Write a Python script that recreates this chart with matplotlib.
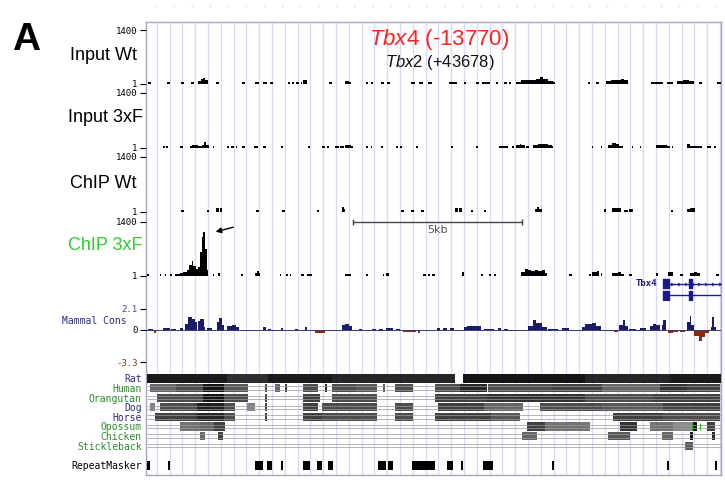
import numpy as np
import matplotlib.pyplot as plt

plt.rcParams['mathtext.fontset'] = 'custom'
plt.rcParams['mathtext.it'] = 'Liberation Sans:italic'
plt.rcParams['mathtext.rm'] = 'Liberation Sans'

W, H = 725, 484
KB = 17.01          # width of the window, kb

# ---- read-seq signal: (start kb, end kb, value on the 1..1400 scale)
input_wt = [(0.06, 0.15, 40), (0.62, 0.71, 40), (1.04, 1.13, 40), (1.33, 1.42, 40),
            (1.54, 1.62, 60), (1.62, 1.69, 120), (1.69, 1.76, 150), (1.76, 1.83, 80),
            (2.08, 2.16, 40), (2.85, 2.94, 50), (3.22, 3.33, 35), (3.45, 3.57, 35),
            (3.66, 3.76, 35), (4.2, 4.26, 35), (4.32, 4.38, 35), (4.44, 4.52, 35),
            (4.58, 4.62, 40), (4.65, 4.76, 90), (5.42, 5.5, 40), (5.9, 6.0, 70),
            (6.0, 6.06, 40), (6.52, 6.58, 35), (6.65, 6.72, 35), (6.96, 7.05, 35),
            (7.13, 7.22, 50), (7.84, 7.95, 35), (8.08, 8.2, 35), (8.35, 8.46, 35),
            (8.96, 9.2, 45), (9.41, 9.47, 35), (9.76, 9.85, 35), (9.94, 10.18, 35),
            (10.35, 10.42, 35), (10.6, 10.68, 35), (10.74, 10.8, 35), (10.95, 11.1, 50),
            (11.1, 11.3, 100), (11.3, 11.55, 80), (11.55, 11.65, 130), (11.65, 11.75, 180),
            (11.75, 11.9, 120), (11.9, 12.05, 70), (12.05, 12.1, 35), (13.07, 13.13, 35),
            (13.3, 13.4, 35), (13.6, 13.75, 70), (13.75, 13.9, 100), (13.9, 14.05, 80),
            (14.05, 14.15, 110), (14.15, 14.25, 90), (14.95, 15.1, 50), (15.1, 15.3, 40),
            (15.4, 15.6, 40), (15.7, 15.9, 70), (15.9, 16.05, 100), (16.05, 16.2, 60),
            (16.35, 16.45, 35), (16.9, 17.0, 35)]

input_3xf = [(0.5, 0.56, 35), (0.6, 0.64, 50), (1.0, 1.1, 35), (1.3, 1.35, 35),
             (1.35, 1.55, 55), (1.55, 1.65, 50), (1.65, 1.72, 70), (1.72, 1.78, 130),
             (1.78, 1.86, 60), (1.97, 2.02, 35), (2.4, 2.45, 35), (2.5, 2.6, 35),
             (2.65, 2.7, 35), (2.85, 2.92, 35), (3.2, 3.3, 35), (3.45, 3.55, 35),
             (4.0, 4.05, 35), (4.78, 4.85, 35), (5.2, 5.3, 35), (5.35, 5.4, 35),
             (5.6, 5.7, 35), (5.75, 5.85, 35), (5.9, 6.05, 55), (6.05, 6.12, 35),
             (6.52, 6.58, 35), (6.65, 6.7, 35), (6.95, 7.02, 35), (7.4, 7.46, 35),
             (7.52, 7.58, 35), (7.98, 8.05, 35), (9.03, 9.07, 35), (9.77, 9.82, 35),
             (10.45, 10.6, 35), (10.6, 10.7, 35), (10.83, 10.9, 40), (10.95, 11.05, 60),
             (11.05, 11.1, 90), (11.1, 11.2, 60), (11.25, 11.32, 50), (11.45, 11.6, 60),
             (11.6, 11.75, 90), (11.75, 11.9, 80), (11.9, 12.0, 60), (12.0, 12.05, 35),
             (13.18, 13.23, 45), (13.46, 13.5, 35), (13.68, 13.8, 60), (13.8, 13.9, 110),
             (13.9, 14.0, 80), (14.0, 14.1, 50), (14.38, 14.42, 35), (14.6, 14.65, 35),
             (15.1, 15.2, 70), (15.2, 15.4, 55), (15.4, 15.5, 45), (15.55, 15.6, 35),
             (16.0, 16.1, 80), (16.1, 16.3, 50), (16.3, 16.45, 45), (16.6, 16.7, 35),
             (16.8, 16.85, 35)]

chip_wt = [(1.05, 1.12, 35), (1.8, 1.85, 35), (2.08, 2.16, 90), (2.2, 2.26, 90),
           (3.25, 3.35, 35), (4.02, 4.1, 35), (5.05, 5.12, 35), (5.8, 5.86, 110),
           (5.86, 5.9, 60), (7.55, 7.62, 35), (7.85, 7.92, 35), (8.15, 8.22, 35),
           (9.15, 9.24, 80), (9.27, 9.35, 80), (9.62, 9.67, 45), (10.0, 10.06, 35),
           (11.5, 11.57, 60), (11.57, 11.62, 120), (11.62, 11.7, 70), (13.55, 13.62, 60),
           (13.8, 13.95, 100), (13.95, 14.05, 80), (14.15, 14.25, 40), (14.3, 14.4, 70),
           (15.52, 15.58, 35), (16.0, 16.1, 60), (16.1, 16.25, 80)]

chip_3xf = [(0.03, 0.08, 35), (0.4, 0.45, 35), (0.55, 0.6, 35), (0.7, 0.76, 35),
            (0.85, 1.0, 40), (1.0, 1.1, 60), (1.1, 1.2, 90), (1.2, 1.28, 150),
            (1.28, 1.35, 280), (1.35, 1.4, 380), (1.4, 1.47, 250), (1.47, 1.55, 180),
            (1.55, 1.6, 220), (1.6, 1.65, 600), (1.65, 1.7, 1000), (1.7, 1.75, 1120),
            (1.75, 1.8, 700), (1.8, 1.84, 150), (1.97, 2.02, 35), (2.12, 2.18, 55),
            (2.82, 2.88, 40), (3.22, 3.28, 70), (3.28, 3.33, 120), (3.33, 3.37, 60),
            (3.95, 4.0, 35), (4.15, 4.2, 35), (4.25, 4.3, 35), (4.6, 4.66, 35),
            (4.75, 4.9, 35), (5.88, 6.05, 40), (6.52, 6.57, 35), (7.0, 7.05, 35),
            (7.1, 7.2, 70), (8.2, 8.28, 40), (8.35, 8.4, 35), (8.45, 8.55, 35),
            (9.35, 9.4, 80), (9.92, 9.96, 35), (10.15, 10.2, 50), (10.3, 10.35, 35),
            (11.1, 11.2, 100), (11.2, 11.3, 180), (11.3, 11.4, 140), (11.4, 11.5, 110),
            (11.5, 11.6, 130), (11.6, 11.7, 110), (11.7, 11.8, 130), (11.8, 11.85, 60),
            (12.52, 12.6, 35), (13.1, 13.15, 40), (13.2, 13.35, 80), (13.35, 13.4, 110),
            (13.45, 13.5, 70), (13.8, 13.95, 60), (13.95, 14.05, 100), (14.05, 14.15, 50),
            (14.3, 14.38, 40), (15.1, 15.14, 60), (15.45, 15.6, 80), (15.8, 15.9, 40),
            (16.1, 16.2, 60), (16.2, 16.3, 100), (16.3, 16.4, 60), (16.85, 16.95, 40)]

# ---- mammal conservation: (start kb, end kb, score)
cons = [(0.05, 0.2, 0.1), (0.25, 0.3, -0.35), (0.5, 0.7, 0.15), (0.75, 0.9, 0.1),
        (1.0, 1.1, 0.2), (1.15, 1.25, 0.6), (1.25, 1.35, 1.3), (1.35, 1.45, 1.1),
        (1.45, 1.5, 0.8), (1.55, 1.6, 0.9), (1.6, 1.72, 1.05), (1.72, 1.75, 0.3),
        (1.8, 1.95, 0.2), (2.1, 2.15, 0.8), (2.15, 2.25, 1.15), (2.25, 2.3, 0.5),
        (2.4, 2.55, 0.35), (2.55, 2.65, 0.45), (2.65, 2.75, 0.3), (2.8, 2.95, -0.1),
        (3.0, 3.4, -0.08), (3.45, 3.55, 0.3), (3.6, 3.7, 0.1), (3.8, 3.9, -0.1),
        (4.0, 4.05, 0.15), (4.2, 4.3, -0.1), (4.4, 4.5, 0.1), (4.7, 4.75, 0.3),
        (5.0, 5.3, -0.3), (5.35, 5.5, -0.15), (5.8, 5.9, 0.5), (5.9, 6.0, 0.6),
        (6.0, 6.1, 0.4), (6.1, 6.2, -0.1), (6.3, 6.4, 0.1), (6.5, 6.6, -0.1),
        (6.7, 6.8, 0.1), (6.9, 7.0, 0.1), (7.1, 7.3, 0.15), (7.4, 7.5, 0.1),
        (7.6, 8.0, -0.2), (8.05, 8.1, -0.3), (8.6, 8.7, 0.2), (8.8, 8.9, 0.15),
        (9.0, 9.1, 0.15), (9.4, 9.5, 0.3), (9.5, 9.7, 0.4), (9.7, 9.9, 0.35),
        (10.0, 10.3, 0.1), (10.4, 10.5, 0.15), (10.6, 10.7, 0.1), (10.8, 10.9, -0.1),
        (11.3, 11.45, 0.4), (11.45, 11.55, 1.0), (11.55, 11.7, 0.7), (11.7, 11.85, 0.3),
        (11.9, 12.2, 0.1), (12.3, 12.5, 0.15), (12.6, 12.7, -0.1), (12.9, 13.0, 0.3),
        (13.0, 13.2, 0.6), (13.2, 13.3, 0.7), (13.3, 13.45, 0.4), (13.5, 13.8, -0.15),
        (13.85, 13.95, -0.25), (14.0, 14.1, 0.5), (14.1, 14.17, 1.0), (14.17, 14.25, 0.4),
        (14.3, 14.5, 0.1), (14.6, 14.8, 0.15), (14.9, 15.0, 0.4), (15.0, 15.1, 0.6),
        (15.1, 15.2, 0.45), (15.25, 15.3, 0.5), (15.3, 15.38, 1.0), (15.45, 15.6, -0.3),
        (15.6, 15.75, -0.2), (15.8, 15.95, -0.2), (16.0, 16.08, 0.8), (16.08, 16.13, 1.4),
        (16.13, 16.2, 0.5), (16.22, 16.35, -0.6), (16.35, 16.45, -1.2), (16.45, 16.55, -0.8),
        (16.55, 16.65, -0.3), (16.7, 16.75, 0.3), (16.75, 16.8, 1.3), (16.8, 16.85, 0.3),
        (16.9, 17.0, -0.1)]

# ---- Tbx4 gene model
tbx4_exons = [(15.3, 15.47), (16.07, 16.15)]
tbx4_end = 17.0

# ---- multiz alignment blocks: (start kb, end kb, grey level)
species = ['Rat', 'Human', 'Orangutan', 'Dog', 'Horse', 'Opossum', 'Chicken', 'Stickleback']
species_colors = ['#2a2a8a', '#2a8a2a', '#2a8a2a', '#2a2a8a', '#2a2a8a',
                  '#2a8a2a', '#2a8a2a', '#2a8a2a']
rat = [(0.03, 2.4, 0.1), (2.4, 3.6, 0.18), (3.6, 5.5, 0.1), (5.5, 9.14, 0.15),
       (9.38, 13.0, 0.08), (13.0, 15.5, 0.15), (15.5, 17.0, 0.1)]
human = [(0.12, 0.9, 0.4), (0.9, 1.7, 0.3), (1.7, 2.3, 0.08), (2.3, 3.02, 0.35),
         (3.52, 3.58, 0.3), (3.82, 3.96, 0.4), (4.11, 4.17, 0.25), (4.64, 5.09, 0.3),
         (5.3, 5.36, 0.15), (5.5, 6.2, 0.3), (6.2, 6.83, 0.35), (7.01, 7.07, 0.35),
         (7.37, 7.9, 0.3), (8.55, 9.3, 0.3), (9.3, 10.09, 0.15), (10.12, 12.0, 0.3),
         (12.0, 13.5, 0.25), (13.5, 15.2, 0.4), (15.2, 16.0, 0.2), (16.0, 16.98, 0.25)]
orangutan = [(0.33, 1.7, 0.3), (1.7, 2.3, 0.08), (2.3, 3.02, 0.3), (3.52, 3.58, 0.25),
             (4.64, 5.15, 0.25), (5.5, 6.83, 0.3), (8.55, 10.1, 0.25), (10.1, 13.0, 0.2),
             (13.0, 15.0, 0.3), (15.0, 16.98, 0.25)]
dog = [(0.12, 0.27, 0.5), (0.41, 1.5, 0.3), (1.5, 2.3, 0.12), (2.3, 2.63, 0.3),
       (2.99, 3.22, 0.5), (3.52, 3.58, 0.25), (4.64, 5.09, 0.25), (5.21, 6.83, 0.3),
       (7.37, 7.9, 0.3), (8.64, 10.0, 0.25), (10.0, 11.15, 0.4), (11.66, 13.5, 0.3),
       (13.5, 15.3, 0.35), (15.3, 16.98, 0.25)]
horse = [(0.27, 1.5, 0.25), (1.5, 2.3, 0.15), (2.3, 2.63, 0.3), (3.52, 3.58, 0.25),
         (4.64, 5.2, 0.25), (5.2, 6.83, 0.3), (7.37, 7.9, 0.3), (8.55, 10.2, 0.25),
         (10.2, 11.07, 0.35), (13.82, 15.3, 0.25), (15.3, 16.98, 0.3)]
opossum = [(1.0, 1.6, 0.45), (1.6, 2.0, 0.4), (2.0, 2.34, 0.25), (11.27, 11.8, 0.25),
           (11.8, 13.14, 0.45), (14.02, 14.53, 0.2), (14.91, 15.6, 0.45), (15.6, 16.18, 0.55),
           (16.18, 16.3, 0.08), (16.6, 16.83, 0.25)]
chicken = [(1.6, 1.75, 0.4), (2.13, 2.28, 0.25), (11.12, 11.57, 0.4), (13.67, 14.32, 0.35),
           (15.27, 15.59, 0.4), (16.09, 16.18, 0.08), (16.75, 16.83, 0.15)]
stickleback = [(15.95, 16.18, 0.35)]
alignments = [rat, human, orangutan, dog, horse, opossum, chicken, stickleback]

# ---- RepeatMasker elements: (start kb, end kb)
repeats = [(0.03, 0.12), (0.66, 0.71), (3.22, 3.46), (3.58, 3.73), (4.0, 4.05),
           (4.64, 4.85), (5.06, 5.21), (5.38, 5.53), (6.86, 7.1), (7.15, 7.31),
           (7.87, 8.55), (8.9, 9.08), (9.33, 9.38), (9.97, 10.27), (12.0, 12.06),
           (15.42, 15.47), (16.82, 16.9)]

scale_start, scale_len = 6.12, 5.0

fig = plt.figure(figsize=(W / 100, H / 100), dpi=100)


def box(left, top, right, bottom):
    # axes placed by pixel edges of the reference
    ax = fig.add_axes([left / W, 1 - bottom / H, (right - left) / W, (bottom - top) / H])
    ax.set_xlim(0, KB)
    ax.set_facecolor('none')
    for sp in ax.spines.values():
        sp.set_visible(False)
    ax.set_xticks([])
    return ax


def px(x, y):
    return x / W, 1 - y / H


mono = 'DejaVu Sans Mono'

# browser frame and the blue guide lines
bg = box(146, 22, 721, 475)
bg.set_ylim(475, 22)
bg.set_yticks([])
for sp in bg.spines.values():
    sp.set_visible(True)
    sp.set_color('#a8a8bc')
    sp.set_linewidth(1)
bg.vlines(np.arange(0.317, KB, 0.3787), 22, 475, color='#d8d8fa', lw=0.9)

# scale bar
bg.plot([scale_start, scale_start + scale_len], [221.5, 221.5], color='#444444', lw=1)
bg.vlines([scale_start, scale_start + scale_len], 218.5, 224.5, color='#444444', lw=1)
bg.text(scale_start + scale_len / 2, 230, '5kb', ha='center', va='center',
        fontsize=8, color='#555555', family='DejaVu Sans')

# faint dotted ruler at the very top
fig.lines.append(plt.Line2D([155 / W, 720 / W], [1 - 6 / H, 1 - 6 / H],
                            transform=fig.transFigure, color='#d4d4e4', lw=1,
                            linestyle=(0, (1, 12))))


def signal(top, bottom, data):
    ax = box(146, top, 721, bottom)
    ax.set_ylim(0, 1400)
    s = np.array(data, dtype=float)
    ax.bar(s[:, 0], s[:, 2], width=s[:, 1] - s[:, 0], align='edge', color='black', lw=0)
    ax.set_yticks([0, 1400], ['1', '1400'])
    ax.tick_params(axis='y', length=4, width=0.8, pad=2, labelsize=6.5)
    for t in ax.get_yticklabels():
        t.set_family(mono)
    return ax


signal(30, 83.5, input_wt)
signal(93, 147.5, input_3xf)
signal(156.5, 211.5, chip_wt)
ax4 = signal(221.5, 275.5, chip_3xf)
ax4.annotate('', xy=(1.98, 1115), xytext=(2.66, 1270),
             arrowprops=dict(arrowstyle='-|>', color='black', lw=1, mutation_scale=8),
             annotation_clip=False)

fig.text(*px(137, 56), 'Input Wt', ha='right', va='center', fontsize=13, family='Liberation Sans')
fig.text(*px(143, 118), 'Input 3xF', ha='right', va='center', fontsize=13, family='Liberation Sans')
fig.text(*px(137, 183), 'ChIP Wt', ha='right', va='center', fontsize=13, family='Liberation Sans')
fig.text(*px(143, 246), 'ChIP 3xF', ha='right', va='center', fontsize=13,
         family='Liberation Sans', color='#2ecc2e')
fig.text(*px(26, 40), 'A', ha='center', va='center', fontsize=28, fontweight='bold',
         family='Liberation Sans')
fig.text(*px(439, 40), r'$\it{Tbx4}$ (-13770)', ha='center', va='center', fontsize=16,
         family='Liberation Sans', color='#ff2020')
fig.text(*px(440, 62), r'$\it{Tbx2}$ (+43678)', ha='center', va='center', fontsize=12,
         family='Liberation Sans', color='#111111')

# gene model
g = box(146, 278, 721, 301)
g.set_ylim(2, 0)
g.set_yticks([])
for row in (0.5, 1.5):
    g.hlines(row, tbx4_exons[0][0], tbx4_end, color='#1a1a8c', lw=1)
    g.broken_barh([(a, b - a) for a, b in tbx4_exons], (row - 0.4, 0.8), color='#1a1a8c')
chev = np.arange(tbx4_exons[0][1] + 0.1, tbx4_end, 0.2)
g.plot(chev, np.full(len(chev), 0.5), ls='none', marker='4', ms=3, mew=0.8, color='#1a1a8c')
g.text(15.12, 0.5, 'Tbx4', ha='right', va='center', fontsize=6.5, family=mono,
       color='#1a1a8c', fontweight='bold')

# conservation
c = box(146, 309, 721, 362)
c.set_ylim(-3.3, 2.1)
cv = np.array(cons, dtype=float)
cols = np.where(cv[:, 2] >= 0, '#1c1c66', '#8b2a10')
c.bar(cv[:, 0], cv[:, 2], width=cv[:, 1] - cv[:, 0], align='edge', color=cols, lw=0)
c.axhline(0, color='#3a3a70', lw=0.7)
c.set_yticks([2.1, 0, -3.3], ['2.1', '0', '-3.3'])
c.tick_params(axis='y', length=4, width=0.8, pad=2, labelsize=6.5)
for t, col in zip(c.get_yticklabels(), ['#4a4a80', 'black', '#8b3a1a']):
    t.set_family(mono)
    t.set_color(col)
fig.text(*px(127, 321), 'Mammal Cons', ha='right', va='center', fontsize=7,
         family=mono, color='#2a2a7a')

# alignments
al = box(146, 373.7, 721, 450.5)
al.set_ylim(7.5, -0.5)
for i, blocks in enumerate(alignments):
    if i > 0:
        al.hlines([i - 0.17, i + 0.17], 0.03, 17.0, color='#9a9a9a', lw=0.5)
    for a, b, shade in blocks:
        al.broken_barh([(a, b - a)], (i - 0.42, 0.84), color=str(shade), lw=0)
al.vlines([16.15, 16.39], 5 - 0.4, 5 + 0.4, color='#22bb22', lw=0.8)
al.vlines([15.95], 7 - 0.4, 7 + 0.4, color='#22bb22', lw=0.8)
al.set_yticks(range(len(species)), species)
al.tick_params(axis='y', length=0, pad=3, labelsize=7)
for t, col in zip(al.get_yticklabels(), species_colors):
    t.set_family(mono)
    t.set_color(col)

# RepeatMasker
rm = box(146, 460.5, 721, 469.5)
rm.set_ylim(0, 1)
rm.broken_barh([(a, b - a) for a, b in repeats], (0, 1), color='black', lw=0)
rm.set_yticks([0.5], ['RepeatMasker'])
rm.tick_params(axis='y', length=0, pad=3, labelsize=7)
rm.get_yticklabels()[0].set_family(mono)

fig.savefig('out.png', dpi=100)
